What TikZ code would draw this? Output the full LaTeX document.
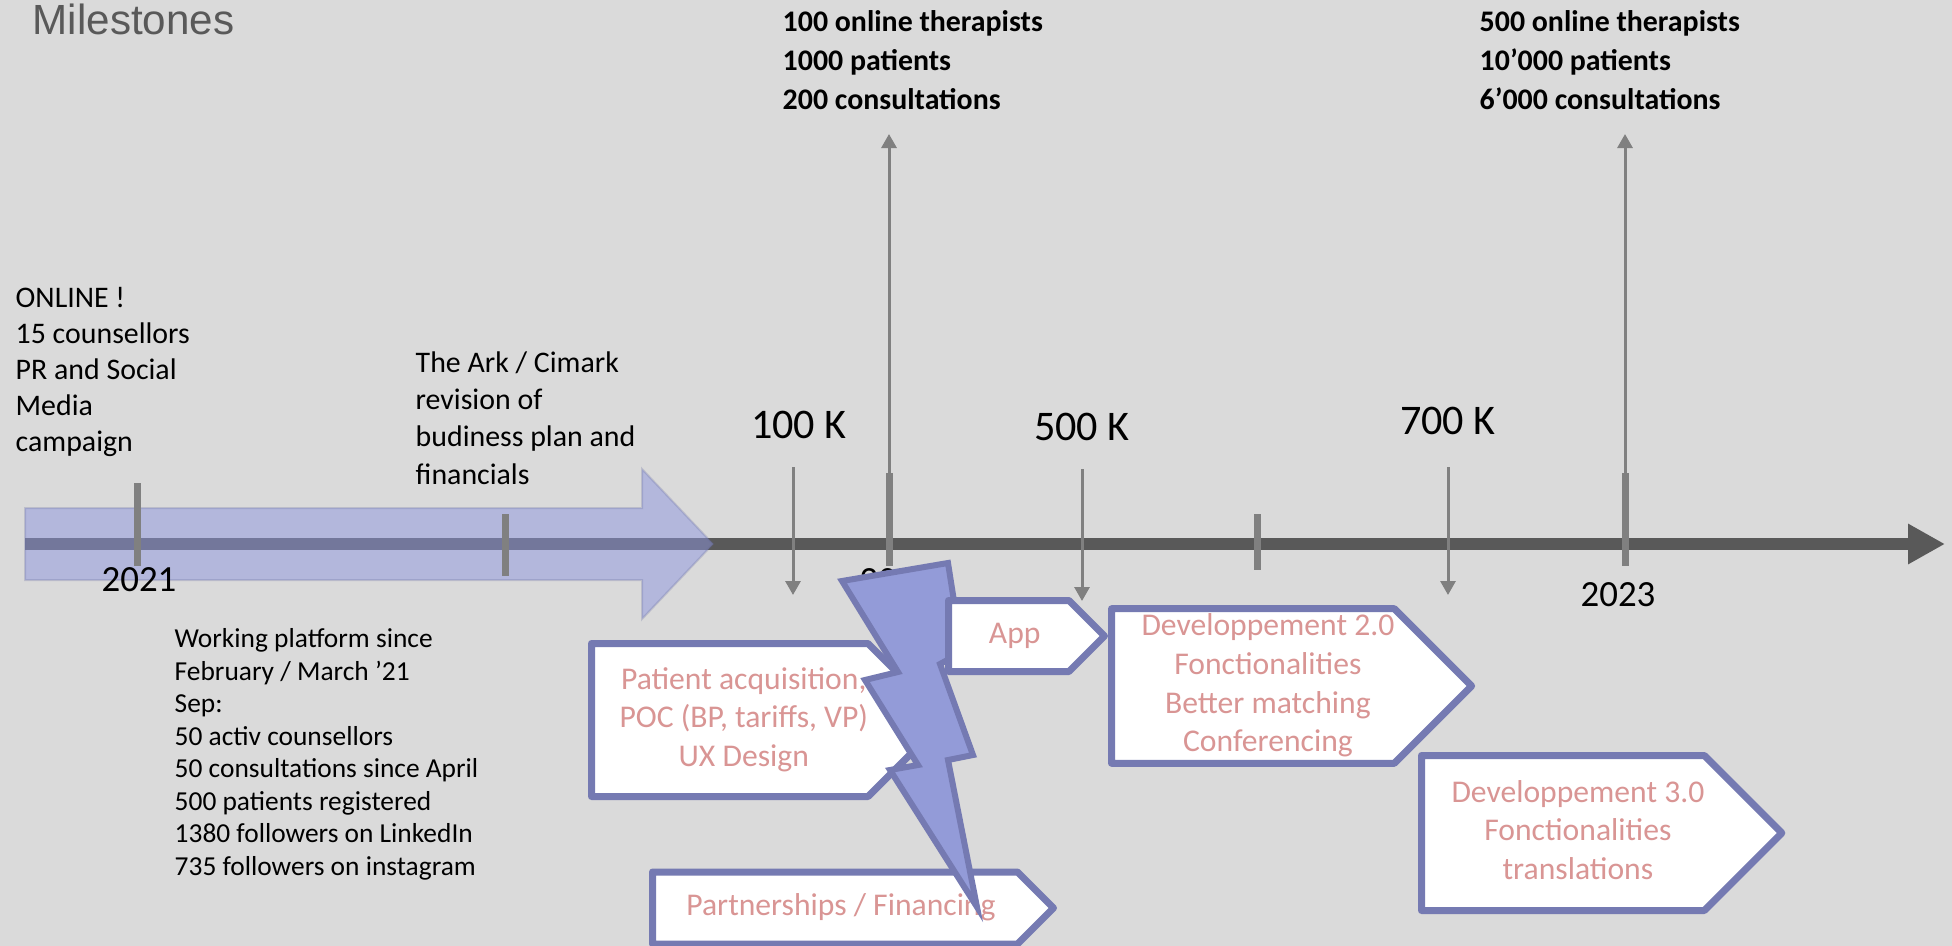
\documentclass[tikz,border=0pt]{standalone}
\usepackage{fontspec}
\setmainfont{Carlito}
\newfontfamily\titlefont{Liberation Sans}
\usetikzlibrary{arrows.meta,shapes.symbols,positioning}
\definecolor{bggray}{RGB}{218,218,218}
\definecolor{axisgray}{RGB}{89,89,89}
\definecolor{tickgray}{RGB}{128,128,128}
\definecolor{lavender}{RGB}{141,149,222}
\definecolor{boltblue}{RGB}{147,155,216}
\definecolor{frameblue}{RGB}{117,122,178}
\definecolor{rosetext}{RGB}{217,149,148}
% text block pushed right inside a box
\newcommand{\padtext}[2]{\begin{tabular}{@{\hspace{#1}}c@{}}#2\end{tabular}}

\begin{document}
\begin{tikzpicture}[x=0.1mm, y=-0.1mm,
  note/.style={inner sep=0pt, align=left, font=\fontsize{8.5}{10.2}\selectfont},
  smallnote/.style={inner sep=0pt, align=left, font=\fontsize{7.8}{9.25}\selectfont},
  goal/.style={inner sep=0pt, align=left, font=\bfseries\fontsize{8.5}{11.1}\selectfont},
  money/.style={inner sep=0pt, font=\fontsize{12}{14}\selectfont},
  year/.style={inner sep=0pt, font=\fontsize{10.5}{12}\selectfont},
  tick/.style={tickgray, line width=0.7mm},
  thinarrow/.style={tickgray, line width=0.3mm, -{Triangle[length=1.4mm, width=1.5mm]}},
  homeplate/.style={shape=signal, signal to=east, draw=frameblue, fill=white,
    line width=0.7mm, line join=round, text=rosetext, align=center,
    inner sep=0pt, anchor=west, font=\fontsize{9}{11}\selectfont}]
  % background and page frame
  \fill[bggray] (0,0) rectangle (1952,946);
  \useasboundingbox (0,0) rectangle (1952,946);

  \node[inner sep=0pt, anchor=base west, text=axisgray,
    font=\titlefont\fontsize{12}{14}\selectfont] (title) at (32,34) {Milestones};

  % time axis
  \coordinate (axis-l) at (25,544);
  \coordinate (axis-r) at (1945,544);
  \draw[axisgray, line width=1.2mm, -{Triangle[length=3.7mm, width=3.8mm]}] (axis-l) -- (axis-r);

  % done so far
  \filldraw[fill=lavender, fill opacity=0.5, draw=lavender!70!black, draw opacity=0.25, line width=0.2mm]
    (25,508) -- (642,508) -- (642,469) -- (713,544) -- (642,619) -- (642,580) -- (25,580) -- cycle;

  % ticks
  \draw[tick] (137,483) -- (137,566);
  \draw[tick] (505,514) -- (505,576);
  \draw[tick] (889,473) -- (889,566);
  \draw[tick] (1257,514) -- (1257,570);
  \draw[tick] (1625,473) -- (1625,566);

  % text
  \node[note, anchor=north west] (online) at (15,287)
    {ONLINE !\\15 counsellors\\PR and Social\\Media\\campaign};
  \node[note, anchor=north west, font=\fontsize{8.5}{10.6}\selectfont] (ark) at (415,351)
    {The Ark / Cimark\\revision of\\budiness plan and\\financials};
  \node[smallnote, anchor=north west] (platform) at (174,628)
    {Working platform since\\February / March ’21\\Sep:\\50 activ counsellors\\50 consultations since April\\500 patients registered\\1380 followers on LinkedIn\\735 followers on instagram};
  \node[goal, anchor=north west] (goal-a) at (782,10)
    {100 online therapists\\1000 patients\\200 consultations};
  \node[goal, anchor=north west] (goal-b) at (1479,10)
    {500 online therapists\\10’000 patients\\6’000 consultations};

  \node[money] (k100) at (799,425) {100 K};
  \node[money] (k500) at (1082,427) {500 K};
  \node[money] (k700) at (1448,421) {700 K};

  \node[year] (y2021) at (139,580) {2021};
  \node[year] (y2022) at (897,581) {2022};
  \node[year] (y2023) at (1618,595) {2023};

  % funding arrows
  \coordinate (k100-a) at (793,467);
  \coordinate (k100-b) at (793,595);
  \coordinate (k500-a) at (1082,469);
  \coordinate (k500-b) at (1082,601);
  \coordinate (k700-a) at (1448,467);
  \coordinate (k700-b) at (1448,595);
  \draw[thinarrow] (k100-a) -- (k100-b);
  \draw[thinarrow] (k500-a) -- (k500-b);
  \draw[thinarrow] (k700-a) -- (k700-b);

  % goal arrows
  \coordinate (goal-a-foot) at (889,473);
  \coordinate (goal-a-tip) at (889,134);
  \coordinate (goal-b-foot) at (1625,473);
  \coordinate (goal-b-tip) at (1625,134);
  \draw[thinarrow] (goal-a-foot) -- (goal-a-tip);
  \draw[thinarrow] (goal-b-foot) -- (goal-b-tip);

  % work packages
  \node[homeplate, minimum width=35.1mm, minimum height=15.3mm] (patient) at (588,720)
    {\padtext{2.8mm}{Patient acquisition,\\POC (BP, tariffs, VP)\\UX Design}};
  \node[homeplate, minimum width=40.1mm, minimum height=7.2mm] (partner) at (649,908)
    {\padtext{1.2mm}{Partnerships / Financing}};
  \node[homeplate, minimum width=35.5mm, minimum height=15.4mm] (dev2) at (1108,686)
    {\padtext{3mm}{Developpement 2.0\\Fonctionalities\\Better matching\\Conferencing}};
  \node[homeplate, minimum width=35.5mm, minimum height=15.5mm] (dev3) at (1418,833)
    {\padtext{3mm}{Developpement 3.0\\Fonctionalities\\translations}};

  % lightning
  \filldraw[fill=boltblue, draw=frameblue, line width=0.6mm]
    (842,581) -- (948,563) -- (962,652) -- (940,664) -- (973,755) -- (948,760)
    -- (977,907) -- (890,770) -- (918,765) -- (865,680) -- (898,672) -- cycle;

  \node[homeplate, minimum width=15.6mm, minimum height=7.1mm] (app) at (945,636)
    {\padtext{1.2mm}{App}};
\end{tikzpicture}
\end{document}
